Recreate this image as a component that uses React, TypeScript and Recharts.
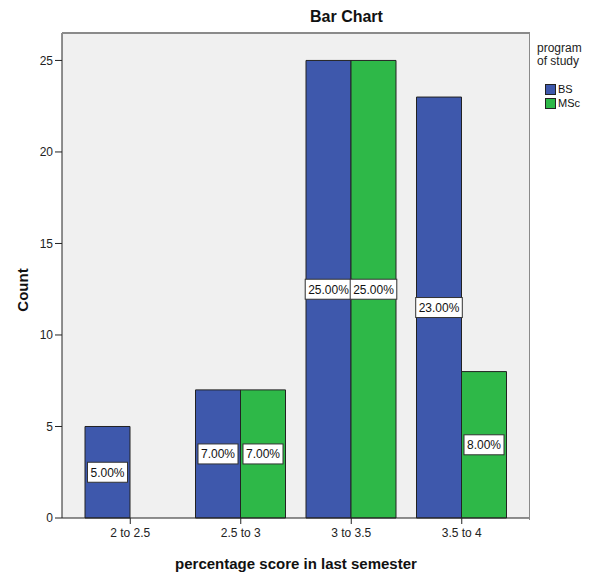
import React from 'react';
import {
    BarChart,
    Bar,
    XAxis,
    YAxis,
    CartesianGrid,
    LabelList,
} from 'recharts';

const categories = ['2 to 2.5', '2.5 to 3', '3 to 3.5', '3.5 to 4'];
const bsCounts = [5, 7, 25, 23];
const mscCounts: (number | null)[] = [null, 7, 25, 8];
const yTicks = [0, 5, 10, 15, 20, 25];

const FONT = '"Liberation Sans", Arial, sans-serif';
const BLUE = '#3e58ac';
const GREEN = '#2eb848';

const data = categories.map((name, i) => ({ name, BS: bsCounts[i], MSc: mscCounts[i] }));
const total = [...bsCounts, ...mscCounts].reduce((s: number, v) => s + (v ?? 0), 0);

// white boxed percentage label in the middle of each bar
const BoxLabel = (props: any) => {
    const { x, y, width, height, value } = props;
    if (value == null || !height) return null;
    const text = ((value / total) * 100).toFixed(2) + '%';
    const w = text.length * 6.6 + 7;
    const cx = x + width / 2;
    const cy = y + height / 2;
    return (
        <g>
            <rect x={cx - w / 2} y={cy - 10} width={w} height={20} fill="#fff" stroke="#333" strokeWidth={1} />
            <text x={cx} y={cy + 4.5} textAnchor="middle" fontSize={12} fontFamily={FONT} fill="#111">{text}</text>
        </g>
    );
};

export default function App() {
    return (
        <div style={{ position: 'absolute', left: 0, top: 0, width: 598, height: 575, background: '#fff', fontFamily: FONT }}>
            <BarChart
                width={598}
                height={575}
                data={data}
                margin={{ top: 33, right: 68, bottom: 27, left: 0 }}
                barCategoryGap={10}
                barGap={0}
            >
                <CartesianGrid fill="#f0f0f0" horizontal={false} vertical={false} />
                <XAxis
                    dataKey="name"
                    padding={{ left: 13, right: 13 }}
                    height={30}
                    tickSize={6}
                    tickMargin={4}
                    stroke="#222"
                    tick={{ fill: '#222', fontSize: 12, fontFamily: FONT }}
                />
                <YAxis
                    width={62}
                    domain={[0, 26.5]}
                    ticks={yTicks}
                    tickSize={7}
                    tickMargin={2}
                    stroke="#222"
                    tick={{ fill: '#222', fontSize: 12, fontFamily: FONT }}
                />
                <Bar dataKey="BS" fill={BLUE} stroke="#222" strokeWidth={1} isAnimationActive={false}>
                    <LabelList dataKey="BS" content={BoxLabel} />
                </Bar>
                <Bar dataKey="MSc" fill={GREEN} stroke="#222" strokeWidth={1} isAnimationActive={false}>
                    <LabelList dataKey="MSc" content={BoxLabel} />
                </Bar>
            </BarChart>

            {/* plot frame: top and right edges */}
            <div style={{
                position: 'absolute', left: 62, top: 32, width: 467, height: 486,
                borderTop: '2px solid #8a8a8a', borderRight: '1px solid #8a8a8a', pointerEvents: 'none',
            }} />

            <div style={{ position: 'absolute', left: 310, top: 8, fontSize: 16, fontWeight: 'bold', color: '#111' }}>Bar Chart</div>
            <div style={{
                position: 'absolute', left: 22, top: 290, fontSize: 15, fontWeight: 'bold', color: '#111',
                transform: 'translate(-50%, -50%) rotate(-90deg)', transformOrigin: 'center',
            }}>Count</div>
            <div style={{ position: 'absolute', left: 0, width: 592, top: 555, textAlign: 'center', fontSize: 15, fontWeight: 'bold', color: '#111' }}>
                percentage score in last semester
            </div>

            <div style={{ position: 'absolute', left: 537, top: 42, fontSize: 12, lineHeight: '13px', color: '#222' }}>
                program<br />of study
            </div>
            <div style={{ position: 'absolute', left: 545, top: 82, fontSize: 11, color: '#111' }}>
                {[{ n: 'BS', c: BLUE }, { n: 'MSc', c: GREEN }].map(s => (
                    <div key={s.n} style={{ display: 'flex', alignItems: 'center', height: 14 }}>
                        <span style={{ width: 9, height: 9, background: s.c, border: '1px solid #222', marginRight: 2 }} />
                        {s.n}
                    </div>
                ))}
            </div>
        </div>
    );
}
